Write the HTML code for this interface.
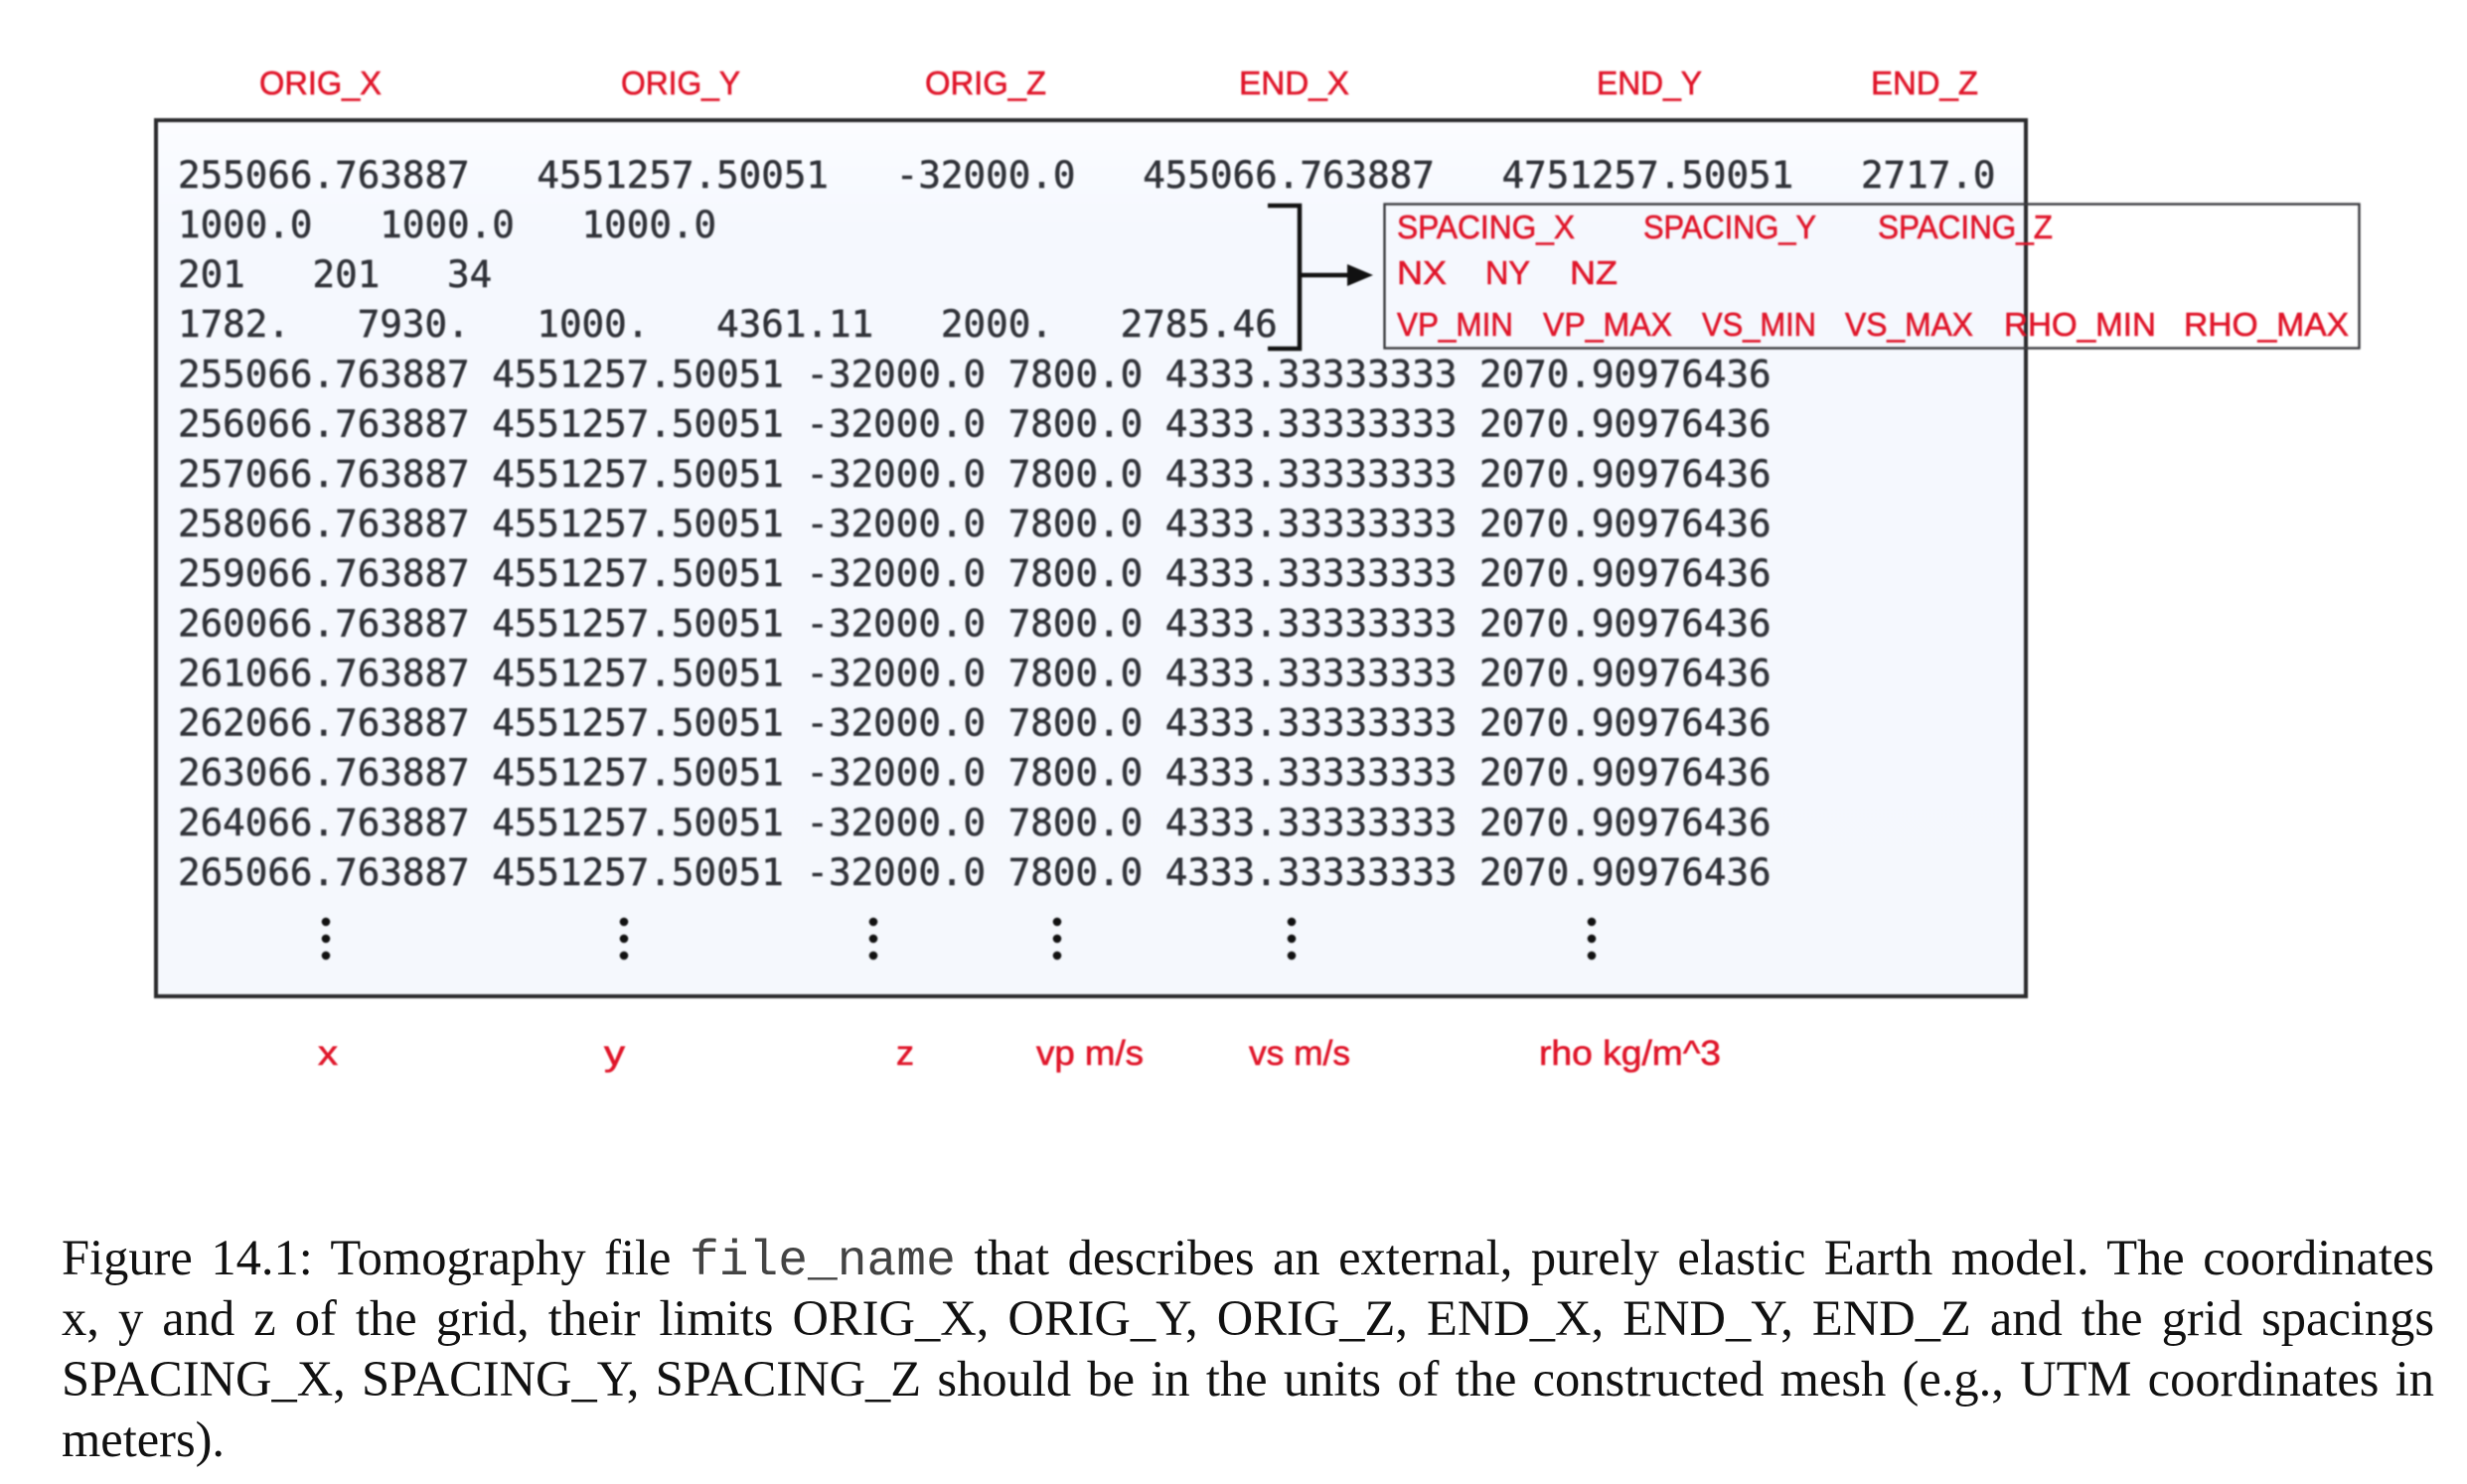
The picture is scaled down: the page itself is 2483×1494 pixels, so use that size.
<!DOCTYPE html>
<html lang="en">
<head>
<meta charset="utf-8">
<title>Figure 14.1: Tomography file</title>
<style>
html,body{margin:0;padding:0;background:#fff;width:2483px;height:1494px;overflow:hidden}
#figure{position:absolute;left:0;top:0;width:2483px;height:1180px;filter:blur(0.8px)}
.mono{font-family:"DejaVu Sans Mono",monospace;font-size:37.53px;fill:#303238;stroke:#303238;stroke-width:0.5px;white-space:pre}
.red{font-family:"Liberation Sans",sans-serif;font-size:33px;fill:#e0162a;stroke:#e0162a;stroke-width:0.6px}
.red.low{font-size:35px}
.cap{position:absolute;left:62px;width:2388px;height:61px;line-height:61px;font-family:"Liberation Serif",serif;font-size:50.5px;color:#111;text-align:justify;text-align-last:justify;white-space:normal;filter:blur(0.3px)}
.cap.last{text-align-last:left}
.cap span{font-family:"Liberation Mono",monospace;font-size:49.6px;color:#444}
</style>
</head>
<body>
<svg id="figure" width="2483" height="1180" viewBox="0 0 2483 1180" xmlns="http://www.w3.org/2000/svg">
  <defs>
    <linearGradient id="boxBg" x1="0" y1="0" x2="0" y2="1">
      <stop offset="0" stop-color="#fbfcff"/>
      <stop offset="0.12" stop-color="#f5f8fe"/>
      <stop offset="1" stop-color="#f5f8fd"/>
    </linearGradient>
  </defs>

  <g>
    <text class="red" x="261" y="95" textLength="123" lengthAdjust="spacingAndGlyphs">ORIG_X</text>
    <text class="red" x="625" y="95" textLength="120" lengthAdjust="spacingAndGlyphs">ORIG_Y</text>
    <text class="red" x="931" y="95" textLength="122" lengthAdjust="spacingAndGlyphs">ORIG_Z</text>
    <text class="red" x="1247" y="95" textLength="111" lengthAdjust="spacingAndGlyphs">END_X</text>
    <text class="red" x="1607" y="95" textLength="106" lengthAdjust="spacingAndGlyphs">END_Y</text>
    <text class="red" x="1883" y="95" textLength="108" lengthAdjust="spacingAndGlyphs">END_Z</text>
  </g>

  <rect x="157" y="121" width="1882" height="882" fill="url(#boxBg)" stroke="#2b2b2d" stroke-width="4"/>

  <g>
    <text class="mono" xml:space="preserve" x="179" y="189">255066.763887   4551257.50051   -32000.0   455066.763887   4751257.50051   2717.0</text>
    <text class="mono" xml:space="preserve" x="179" y="239">1000.0   1000.0   1000.0</text>
    <text class="mono" xml:space="preserve" x="179" y="289">201   201   34</text>
    <text class="mono" xml:space="preserve" x="179" y="339">1782.   7930.   1000.   4361.11   2000.   2785.46</text>
    <text class="mono" x="179" y="389.5">255066.763887 4551257.50051 -32000.0 7800.0 4333.33333333 2070.90976436</text>
    <text class="mono" x="179" y="439.7">256066.763887 4551257.50051 -32000.0 7800.0 4333.33333333 2070.90976436</text>
    <text class="mono" x="179" y="489.8">257066.763887 4551257.50051 -32000.0 7800.0 4333.33333333 2070.90976436</text>
    <text class="mono" x="179" y="540">258066.763887 4551257.50051 -32000.0 7800.0 4333.33333333 2070.90976436</text>
    <text class="mono" x="179" y="590.1">259066.763887 4551257.50051 -32000.0 7800.0 4333.33333333 2070.90976436</text>
    <text class="mono" x="179" y="640.3">260066.763887 4551257.50051 -32000.0 7800.0 4333.33333333 2070.90976436</text>
    <text class="mono" x="179" y="690.4">261066.763887 4551257.50051 -32000.0 7800.0 4333.33333333 2070.90976436</text>
    <text class="mono" x="179" y="740.6">262066.763887 4551257.50051 -32000.0 7800.0 4333.33333333 2070.90976436</text>
    <text class="mono" x="179" y="790.7">263066.763887 4551257.50051 -32000.0 7800.0 4333.33333333 2070.90976436</text>
    <text class="mono" x="179" y="840.9">264066.763887 4551257.50051 -32000.0 7800.0 4333.33333333 2070.90976436</text>
    <text class="mono" x="179" y="891">265066.763887 4551257.50051 -32000.0 7800.0 4333.33333333 2070.90976436</text>
  </g>

  <g fill="#111">
    <g><circle cx="328" cy="928" r="4.3"/><circle cx="328" cy="945" r="4.3"/><circle cx="328" cy="962" r="4.3"/></g>
    <g><circle cx="628" cy="928" r="4.3"/><circle cx="628" cy="945" r="4.3"/><circle cx="628" cy="962" r="4.3"/></g>
    <g><circle cx="879" cy="928" r="4.3"/><circle cx="879" cy="945" r="4.3"/><circle cx="879" cy="962" r="4.3"/></g>
    <g><circle cx="1064" cy="928" r="4.3"/><circle cx="1064" cy="945" r="4.3"/><circle cx="1064" cy="962" r="4.3"/></g>
    <g><circle cx="1300" cy="928" r="4.3"/><circle cx="1300" cy="945" r="4.3"/><circle cx="1300" cy="962" r="4.3"/></g>
    <g><circle cx="1602" cy="928" r="4.3"/><circle cx="1602" cy="945" r="4.3"/><circle cx="1602" cy="962" r="4.3"/></g>
  </g>

  <path d="M1276 207H1308V351H1276" fill="none" stroke="#111" stroke-width="4.5"/>
  <path d="M1308 277H1360" fill="none" stroke="#111" stroke-width="4.5"/>
  <path d="M1356 266L1382 277L1356 288Z" fill="#111"/>

  <rect x="1393.5" y="205.5" width="981" height="145" fill="none" stroke="#3c3c40" stroke-width="2.4"/>

  <g>
    <text class="red" x="1406" y="240" textLength="179" lengthAdjust="spacingAndGlyphs">SPACING_X</text>
    <text class="red" x="1654" y="240" textLength="174" lengthAdjust="spacingAndGlyphs">SPACING_Y</text>
    <text class="red" x="1890" y="240" textLength="176" lengthAdjust="spacingAndGlyphs">SPACING_Z</text>
    <text class="red" x="1406" y="286" textLength="50" lengthAdjust="spacingAndGlyphs">NX</text>
    <text class="red" x="1495" y="286" textLength="45" lengthAdjust="spacingAndGlyphs">NY</text>
    <text class="red" x="1580" y="286" textLength="48" lengthAdjust="spacingAndGlyphs">NZ</text>
    <text class="red" x="1406" y="338" textLength="117" lengthAdjust="spacingAndGlyphs">VP_MIN</text>
    <text class="red" x="1553" y="338" textLength="130" lengthAdjust="spacingAndGlyphs">VP_MAX</text>
    <text class="red" x="1713" y="338" textLength="115" lengthAdjust="spacingAndGlyphs">VS_MIN</text>
    <text class="red" x="1857" y="338" textLength="129" lengthAdjust="spacingAndGlyphs">VS_MAX</text>
    <text class="red" x="2017" y="338" textLength="153" lengthAdjust="spacingAndGlyphs">RHO_MIN</text>
    <text class="red" x="2198" y="338" textLength="166" lengthAdjust="spacingAndGlyphs">RHO_MAX</text>
  </g>

  <g>
    <text class="red low" x="320" y="1072" textLength="20" lengthAdjust="spacingAndGlyphs">x</text>
    <text class="red low" x="608" y="1072" textLength="21" lengthAdjust="spacingAndGlyphs">y</text>
    <text class="red low" x="902" y="1072" textLength="18" lengthAdjust="spacingAndGlyphs">z</text>
    <text class="red low" x="1043" y="1072" textLength="108" lengthAdjust="spacingAndGlyphs">vp m/s</text>
    <text class="red low" x="1257" y="1072" textLength="102" lengthAdjust="spacingAndGlyphs">vs m/s</text>
    <text class="red low" x="1549" y="1072" textLength="183" lengthAdjust="spacingAndGlyphs">rho kg/m^3</text>
  </g>
</svg>

<div class="cap" style="top:1236px">Figure 14.1: Tomography file <span>file_name</span> that describes an external, purely elastic Earth model. The coordinates</div>
<div class="cap" style="top:1297px">x, y and z of the grid, their limits ORIG_X, ORIG_Y, ORIG_Z, END_X, END_Y, END_Z and the grid spacings</div>
<div class="cap" style="top:1358px">SPACING_X, SPACING_Y, SPACING_Z should be in the units of the constructed mesh (e.g., UTM coordinates in</div>
<div class="cap last" style="top:1419px">meters).</div>
</body>
</html>
